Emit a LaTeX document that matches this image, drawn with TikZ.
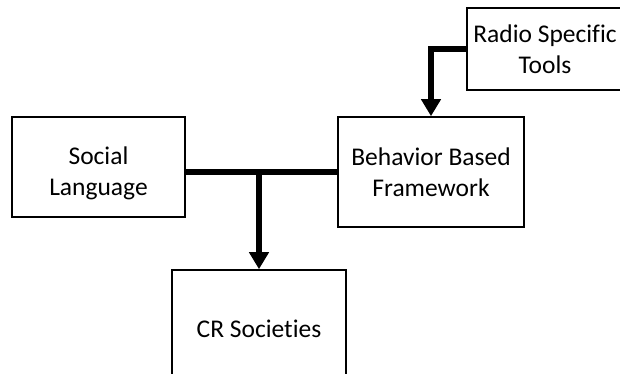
\documentclass[tikz,border=0pt]{standalone}
\usepackage{fontspec}
\setmainfont{Carlito}[Ligatures=NoCommon]
\usetikzlibrary{arrows.meta}
\begin{document}
\begin{tikzpicture}[x=1pt,y=-1pt,
  label text/.style={align=center,inner sep=0pt,
    font=\fontsize{25.5}{31}\selectfont},
  box/.style={draw=black,line width=1.6pt,label text},
  link/.style={line width=6pt},
  arrowlink/.style={line width=6pt,-{Triangle[length=17pt,width=19pt]}}]
\useasboundingbox (0,0) rectangle (620,377);
\begin{scope}
  \clip (0,0) rectangle (620,373);
  \node[box,minimum width=173pt,minimum height=100pt] (SL) at (98.5,167) {};
  \node[label text] (SLtext) at (98.5,173) {Social\\Language};
  \node[box,minimum width=186pt,minimum height=110pt] (BBF) at (431,172) {Behavior Based\\Framework};
  \node[box,minimum width=156pt,minimum height=82pt] (RST) at (545,49) {Radio Specific\\Tools};
  \node[box,minimum width=174pt,minimum height=118pt] (CR) at (259,329) {CR Societies};
\end{scope}
\draw[link] (BBF.west) -- (SL.east |- BBF.west);
\draw[arrowlink] (CR.north |- BBF.west) -- (CR.north);
\draw[arrowlink] (RST.west) -| (BBF.north);
\end{tikzpicture}
\end{document}
